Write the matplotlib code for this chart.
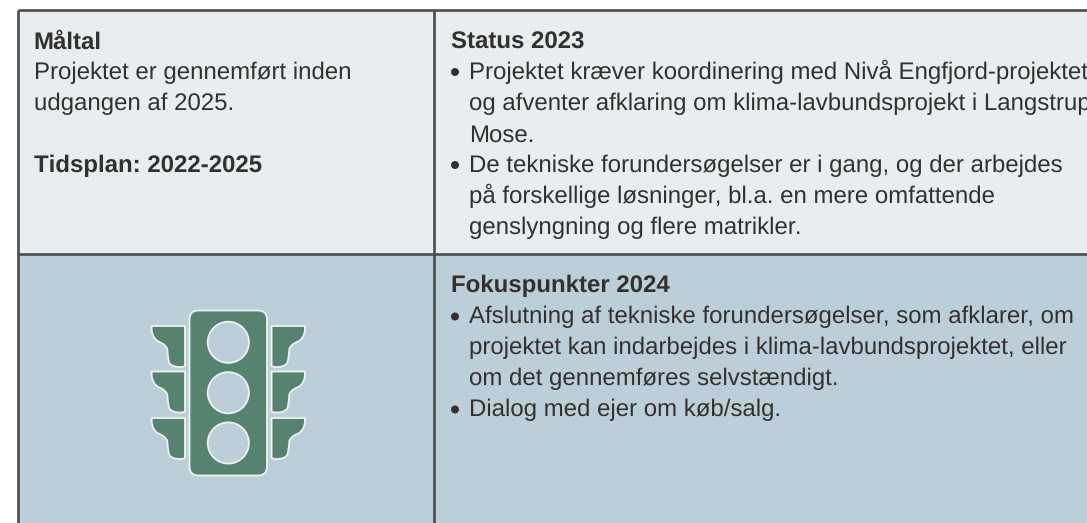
import matplotlib
matplotlib.use("Agg")
import matplotlib.pyplot as plt
from matplotlib.patches import Rectangle, Circle, FancyBboxPatch, PathPatch
from matplotlib.path import Path

W, H = 1087, 523
LEFT_TOP = [("Måltal", True, 33.5, 48.5), ("Projektet er gennemført inden", False, 33.5, 79.5),
            ("udgangen af 2025.", False, 33.5, 110.5), ("Tidsplan: 2022-2025", True, 33.5, 172.5)]
RIGHT_TOP = [("Status 2023", True, 451, 48.5),
             ("Projektet kræver koordinering med Nivå Engfjord-projektet", False, 468.6, 79.5),
             ("og afventer afklaring om klima-lavbundsprojekt i Langstrup", False, 468.6, 110.5),
             ("Mose.", False, 468.6, 141.5),
             ("De tekniske forundersøgelser er i gang, og der arbejdes", False, 468.6, 172.5),
             ("på forskellige løsninger, bl.a. en mere omfattende", False, 468.6, 203.5),
             ("genslyngning og flere matrikler.", False, 468.6, 234.5)]
RIGHT_BOTTOM = [("Fokuspunkter 2024", True, 451, 292.5),
                ("Afslutning af tekniske forundersøgelser, som afklarer, om", False, 468.6, 323.5),
                ("projektet kan indarbejdes i klima-lavbundsprojektet, eller", False, 468.6, 354.5),
                ("om det gennemføres selvstændigt.", False, 468.6, 385.5),
                ("Dialog med ejer om køb/salg.", False, 468.6, 416.5)]
BULLET_Y = [72, 165, 316.5, 409.5]

TOP_BG, BOTTOM_BG = "#e8edf0", "#bccfd8"
LINE, TEXT, GREEN = "#4a4a4a", "#333130", "#568270"
EDGE = "#eef2f3"

plt.rcParams["font.family"] = ["Liberation Sans", "DejaVu Sans"]
plt.rcParams["text.hinting"] = "no_hinting"
plt.rcParams["text.hinting_factor"] = 1
fig = plt.figure(figsize=(W / 100, H / 100), dpi=100, facecolor="white")
ax = fig.add_axes([0, 0, 1, 1])
ax.set_xlim(0, W)
ax.set_ylim(H, 0)
ax.axis("off")

ax.add_patch(Rectangle((18, 10), W - 18, 243.5, fc=TOP_BG, ec="none", zorder=1))
ax.add_patch(Rectangle((18, 253.5), W - 18, H - 253.5, fc=BOTTOM_BG, ec="none", zorder=1))
lw = 2.6 * 0.72
for xs, ys in [((18, W), (10, 10)), ((18, W), (253.5, 253.5)), ((18, 18), (10, H)), ((434, 434), (10, H))]:
    ax.plot(xs, ys, color=LINE, lw=lw, solid_capstyle="butt", zorder=2)

for line, bold, x, y in LEFT_TOP + RIGHT_TOP + RIGHT_BOTTOM:
    ax.text(x, y, line, fontsize=17.2, color=TEXT, fontweight="bold" if bold else "normal",
            ha="left", va="baseline", zorder=3, clip_on=True)
for y in BULLET_Y:
    ax.add_patch(Circle((455, y), 4.0, fc=TEXT, ec="none", zorder=3))

# traffic light icon
OUT = 1.3
ax.add_patch(FancyBboxPatch((196, 317), 64.5, 152, boxstyle="round,pad=6.5,rounding_size=9",
                            fc=GREEN, ec=EDGE, lw=OUT, zorder=4))
for cy in (342.3, 392.7, 443):
    ax.add_patch(Circle((228.3, cy), 20.6, fc=BOTTOM_BG, ec=EDGE, lw=OUT, zorder=5))


def wing(top, side):
    cx = 228.3
    f = lambda dx: cx + side * dx
    verts = [(f(43.3), top), (f(76.6), top), (f(76.6), top + 4), (f(76), top + 12),
             (f(70), top + 15.5), (f(63), top + 18), (f(61), top + 23), (f(60.5), top + 33),
             (f(59), top + 37), (f(56), top + 41), (f(49), top + 41), (f(46), top + 41),
             (f(43.3), top + 40), (f(43.3), top)]
    codes = [Path.MOVETO, Path.LINETO, Path.LINETO, Path.CURVE3, Path.CURVE3, Path.CURVE3, Path.CURVE3,
             Path.CURVE3, Path.CURVE3, Path.CURVE3, Path.LINETO, Path.LINETO, Path.LINETO, Path.CLOSEPOLY]
    ax.add_patch(PathPatch(Path(verts, codes), fc=GREEN, ec=EDGE, lw=OUT, joinstyle="round", zorder=4))


for top in (326, 371.5, 418):
    wing(top, -1)
    wing(top, 1)

fig.savefig("out.png", dpi=100, facecolor="white")
